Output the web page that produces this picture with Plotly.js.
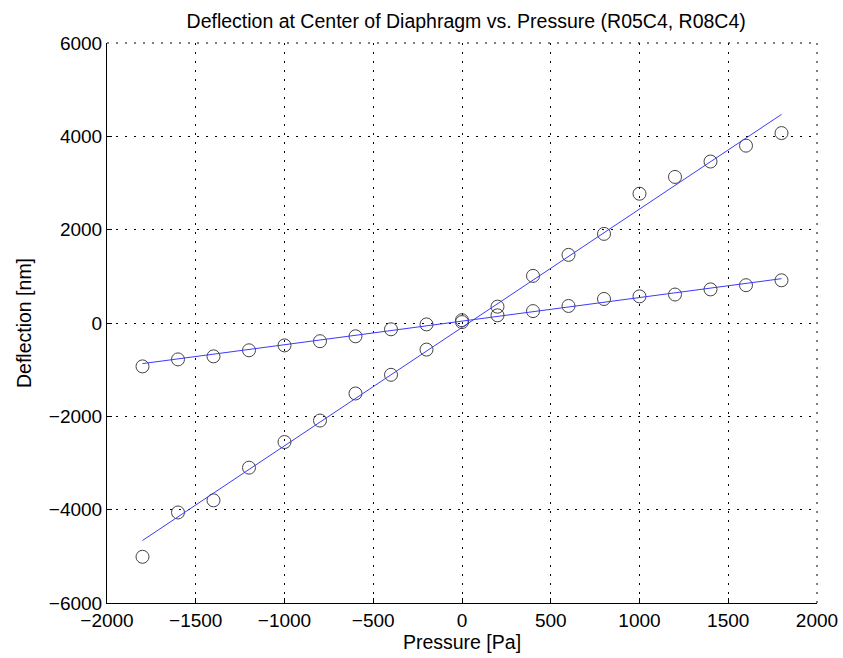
<!DOCTYPE html>
<html>
<head>
<meta charset="utf-8">
<script src="https://cdn.plot.ly/plotly-3.0.1.min.js"></script>
<style>html,body{margin:0;padding:0;background:#fff;}#chart{width:843px;height:658px;}</style>
</head>
<body>
<div id="chart"></div>
<script>
// Pressure steps [Pa]
const pressure = [-1800,-1600,-1400,-1200,-1000,-800,-600,-400,-200,0,200,400,600,800,1000,1200,1400,1600,1800];
// Measured deflection [nm], steeper device
const deflA = [-5010,-4060,-3800,-3100,-2550,-2090,-1510,-1110,-570,60,350,1010,1460,1910,2770,3130,3460,3800,4070];
// Measured deflection [nm], stiffer device
const deflB = [-930,-780,-715,-585,-480,-390,-285,-135,-30,20,165,255,365,515,570,610,720,810,915];
// Linear fits (end points)
const fitX = [-1800, 1800];
const fitA = [-4660, 4470];
const fitB = [-870, 950];

const titleText = 'Deflection at Center of Diaphragm vs. Pressure (R05C4, R08C4)';
const xTitle = 'Pressure [Pa]';
const yTitle = 'Deflection [nm]';

const FONT = 'Liberation Sans, Arial, Helvetica, sans-serif';
const GRID_DASH = '2px,7px';
const markerStyle = {symbol: 'circle-open', size: 13, color: '#444', line: {width: 1, color: '#444'}};
const lineStyle = {color: '#3a3aff', width: 1};

const traces = [
  {x: pressure, y: deflA, mode: 'markers', type: 'scatter', marker: markerStyle},
  {x: fitX, y: fitA, mode: 'lines', type: 'scatter', line: lineStyle},
  {x: pressure, y: deflB, mode: 'markers', type: 'scatter', marker: markerStyle},
  {x: fitX, y: fitB, mode: 'lines', type: 'scatter', line: lineStyle}
];

const axisCommon = {
  showline: true, linecolor: '#000', linewidth: 1, mirror: false,
  ticks: 'inside', ticklen: 5, tickcolor: '#000', tickwidth: 1,
  showgrid: true, gridcolor: '#000', gridwidth: 1, griddash: GRID_DASH,
  zeroline: false,
  tickfont: {family: FONT, size: 19, color: '#000'}
};

const layout = {
  width: 843, height: 658,
  paper_bgcolor: '#fff', plot_bgcolor: '#fff',
  showlegend: false,
  margin: {l: 107, r: 26, t: 43, b: 55},
  title: {text: titleText, font: {family: FONT, size: 19.5, color: '#000'}, x: 0.553, xanchor: 'center', y: 0.968, yanchor: 'middle'},
  xaxis: Object.assign({}, axisCommon, {
    range: [-2000, 2000], dtick: 500, tick0: 0,
    title: {text: xTitle, font: {family: FONT, size: 19.5, color: '#000'}, standoff: 4}
  }),
  yaxis: Object.assign({}, axisCommon, {
    range: [-6000, 6000], dtick: 2000, tick0: 0,
    title: {text: yTitle, font: {family: FONT, size: 19.5, color: '#000'}, standoff: 12}
  }),
  // dotted grid lines along the top and right edges of the plot box
  shapes: [
    {type: 'line', xref: 'paper', yref: 'paper', x0: 0, x1: 1, y0: 1, y1: 1, line: {color: '#000', width: 1, dash: GRID_DASH}, layer: 'below'},
    {type: 'line', xref: 'paper', yref: 'paper', x0: 1, x1: 1, y0: 0, y1: 1, line: {color: '#000', width: 1, dash: GRID_DASH}, layer: 'below'}
  ]
};

Plotly.newPlot('chart', traces, layout, {displayModeBar: false, staticPlot: true});
</script>
</body>
</html>
